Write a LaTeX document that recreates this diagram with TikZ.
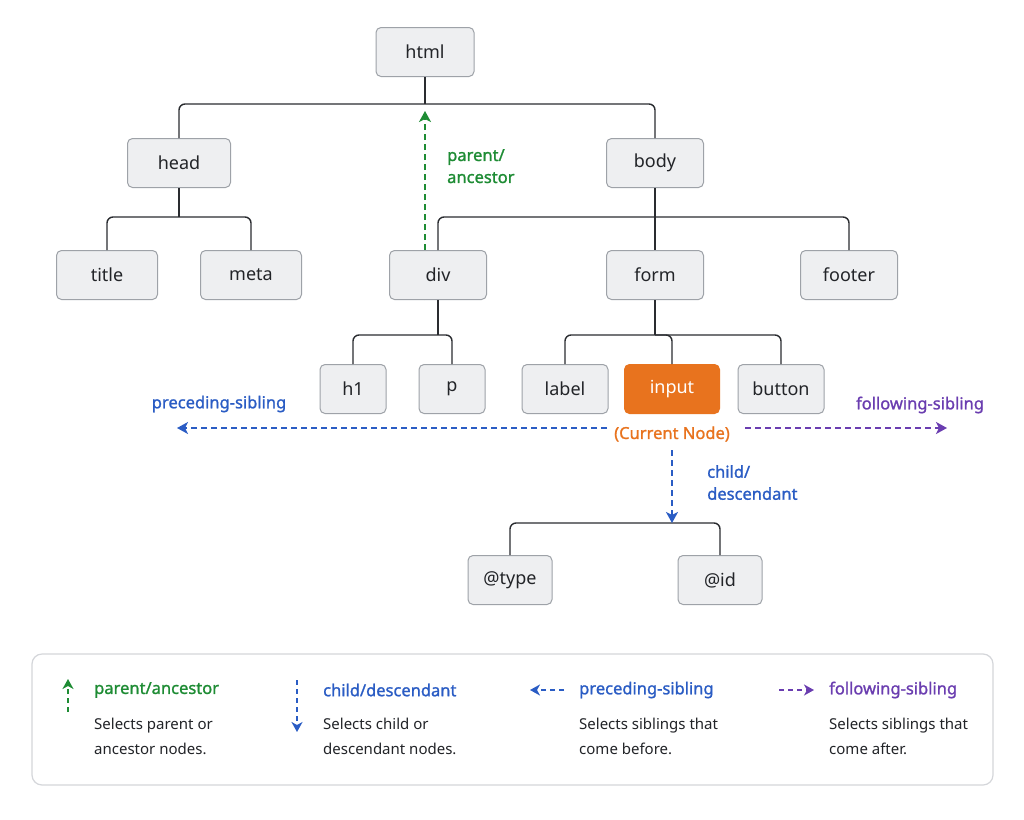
\documentclass[tikz,border=0pt]{standalone}
\usepackage{fontspec}
\setmainfont{Noto Sans}
\newfontfamily\medfont[FakeBold=1.2]{Noto Sans}
\usetikzlibrary{arrows.meta}
\definecolor{nodefill}{HTML}{EEEFF1}
\definecolor{boxdraw}{HTML}{9EA2A8}
\definecolor{textdark}{HTML}{222428}
\definecolor{linedark}{HTML}{2A2C30}
\definecolor{cgreen}{HTML}{1E8C34}
\definecolor{cblue}{HTML}{2A5CC4}
\definecolor{cpurple}{HTML}{6A3DB0}
\definecolor{corange}{HTML}{E8731E}
\definecolor{legendborder}{HTML}{D4D6DA}
\begin{document}
\begin{tikzpicture}[x=1pt,y=-1pt,
  box/.style={draw=boxdraw, fill=nodefill, rounded corners=5pt, line width=1pt,
    minimum height=49pt, font=\fontsize{18}{21}\selectfont, text=textdark, inner sep=0pt},
  cur/.style={box, fill=corange, draw=corange, text=white},
  tree/.style={draw=linedark, line width=1.4pt, rounded corners=6pt},
  darr/.style={line width=1.7pt, dash pattern=on 6pt off 4pt, -{Stealth[length=11pt,width=12pt,inset=3pt]}},
  larr/.style={line width=1.7pt, dash pattern=on 5pt off 4pt, -{Stealth[length=10pt,width=11pt,inset=3pt]}},
  lbl/.style={font=\medfont\fontsize{16.5}{22}\selectfont, align=left, inner sep=0pt},
  ltitle/.style={font=\medfont\fontsize{16.5}{18}\selectfont, inner sep=0pt, anchor=west},
  ldesc/.style={font=\fontsize{15}{25}\selectfont, text=textdark, align=left, inner sep=0pt, anchor=west},
]
\useasboundingbox[fill=white] (0,0) rectangle (1024,819);

% green arrow behind the tree
\coordinate (ga0) at (425,300);
\coordinate (ga1) at (425,111);
\draw[darr, cgreen] (ga0) -- (ga1);

% nodes
\node[box, minimum width=98pt] (html) at (425,52) {html};
\node[box, minimum width=103pt] (head) at (179,163) {head};
\node[box, minimum width=97pt] (body) at (655,163) {body};
\node[box, minimum width=101pt] (title) at (107,275) {title};
\node[box, minimum width=101pt] (meta) at (251,275) {meta};
\node[box, minimum width=97pt] (div) at (438,275) {div};
\node[box, minimum width=97pt] (form) at (655,275) {form};
\node[box, minimum width=97pt] (footer) at (849,275) {footer};
\node[box, minimum width=66pt] (h1) at (353,389) {h1};
\node[box, minimum width=66pt] (p) at (452,389) {p};
\node[box, minimum width=86pt] (label) at (565,389) {label};
\node[cur, minimum width=95pt] (input) at (672,389) {input};
\node[box, minimum width=86pt] (button) at (781,389) {button};
\node[box, minimum width=84pt] (type) at (510,580) {@type};
\node[box, minimum width=84pt] (id) at (720,580) {@id};

% tree connectors
\coordinate (j1) at (425,104);
\draw[tree] (html) -- (j1);
\draw[tree] (head.north) |- (j1) -| (body.north);
\coordinate (j2) at (179,217);
\draw[tree] (head) -- (j2);
\draw[tree] (title.north) |- (j2) -| (meta.north);
\coordinate (j3) at (655,217);
\draw[tree] (body) -- (j3);
\draw[tree] (div.north) |- (j3) -| (footer.north);
\draw[tree] (j3) -- (form);
\coordinate (j4) at (438,335);
\draw[tree] (div) -- (j4);
\draw[tree] (h1.north) |- (j4) -| (p.north);
\coordinate (j5) at (655,335);
\draw[tree] (form) -- (j5);
\draw[tree] (label.north) |- (j5) -| (button.north);
\draw[tree] (j5) -| (input.north);
\coordinate (j6) at (672,523);
\draw[tree] (type.north) |- (j6) -| (id.north);

% axis labels
\node[lbl, text=cgreen, anchor=north west] (plab) at (447,149) {parent/\\ancestor};
\node[font=\medfont\fontsize{16.5}{18}\selectfont, text=corange, inner sep=1pt] (curlab) at (672,434) {(Current Node)};
\coordinate (ps) at (607,428);
\coordinate (pe) at (177,428);
\draw[darr, cblue] (ps) -- (pe);
\coordinate (fs) at (745,428);
\coordinate (fe) at (947,428);
\draw[darr, cpurple] (fs) -- (fe);
\node[font=\medfont\fontsize{16.5}{18}\selectfont, text=cblue, inner sep=0pt] (pslab) at (219,404) {preceding-sibling};
\node[font=\medfont\fontsize{16.5}{18}\selectfont, text=cpurple, inner sep=0pt] (fslab) at (920,405) {following-sibling};
\coordinate (cs) at (672,450);
\draw[darr, cblue] (cs) -- (j6);
\node[lbl, text=cblue, anchor=north west] (clab) at (707,465) {child/\\descendant};

% legend
\node[draw=legendborder, fill=white, line width=1.2pt, rounded corners=10pt,
  minimum width=961pt, minimum height=131pt, inner sep=0pt] (legend) at (512.5,719.5) {};
\coordinate (l1a) at (68,712);
\coordinate (l1b) at (68,679);
\draw[larr, cgreen] (l1a) -- (l1b);
\node[ltitle, text=cgreen] (t1) at (94,690) {parent/ancestor};
\node[ldesc] (d1) at (94,736) {Selects parent or\\ancestor nodes.};

\coordinate (l2a) at (297,680);
\coordinate (l2b) at (297,732);
\draw[larr, cblue] (l2a) -- (l2b);
\node[ltitle, text=cblue] (t2) at (323,690) {child/descendant};
\node[ldesc] (d2) at (323,736) {Selects child or\\descendant nodes.};

\coordinate (l3a) at (564,690);
\coordinate (l3b) at (530,690);
\draw[larr, cblue] (l3a) -- (l3b);
\node[ltitle, text=cblue] (t3) at (579,690) {preceding-sibling};
\node[ldesc] (d3) at (579,736) {Selects siblings that\\come before.};

\coordinate (l4a) at (779,690);
\coordinate (l4b) at (814,690);
\draw[larr, cpurple] (l4a) -- (l4b);
\node[ltitle, text=cpurple] (t4) at (829,690) {following-sibling};
\node[ldesc] (d4) at (829,736) {Selects siblings that\\come after.};
\end{tikzpicture}
\end{document}
